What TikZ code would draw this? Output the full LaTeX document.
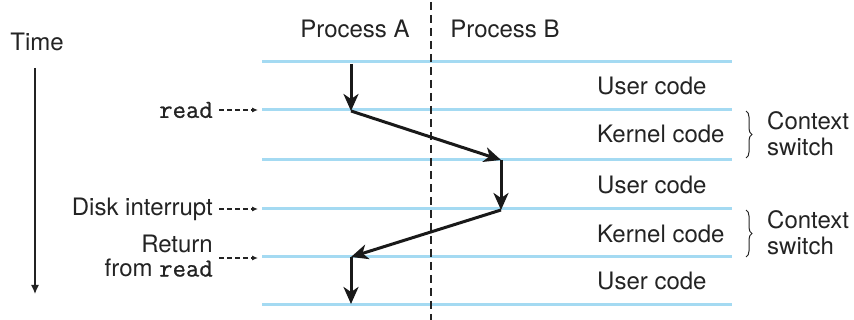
\documentclass[tikz,border=0pt]{standalone}
\usepackage{fontspec}
\setmainfont{TeX Gyre Heros}
\newfontfamily\rdfont{Latin Modern Mono}[FakeBold=0.8]
\usetikzlibrary{arrows.meta,decorations.pathreplacing}
\definecolor{lblue}{RGB}{164,218,242}
\definecolor{dgray}{RGB}{35,35,35}
\newcommand{\rdword}{{\rdfont\bfseries\fontsize{26}{24}\selectfont read}}
\tikzset{
  lane/.style={draw=lblue,line width=3pt},
  flow/.style={draw=black!90,line width=3pt,-{Stealth[length=17pt,width=15pt,inset=5pt]}},
  ptr/.style={draw=dgray,line width=1.1pt,dash pattern=on 5pt off 3pt,-{Latex[length=6pt,width=5pt]}},
  lbl/.style={font=\fontsize{24}{26}\selectfont,text=dgray,inner sep=0pt},
  code/.style={lbl,anchor=west},
  brc/.style={draw=dgray,line width=1pt,decorate,decoration={brace,amplitude=6pt}},
}
\begin{document}
\begin{tikzpicture}[x=1pt,y=-1pt]
\useasboundingbox (0,0) rectangle (854,320);
% lanes
\foreach \i/\y in {1/62,2/110,3/160,4/209,5/257,6/305}{
  \coordinate (L\i) at (262,\y);
  \coordinate (R\i) at (732,\y);
  \draw[lane] (L\i) -- (R\i);
}
% divider
\coordinate (dtop) at (431,2);
\coordinate (dbot) at (431,320);
\draw[draw=dgray,line width=1.8pt,dash pattern=on 8pt off 5pt] (dtop) -- (dbot);
% headers
\node[lbl] (pa) at (355,29) {Process A};
\node[lbl] (pb) at (505,29) {Process B};
% time
\node[lbl] (time) at (37,42) {Time};
\coordinate (t0) at (35,68);
\coordinate (t1) at (35,294);
\draw[draw=dgray,line width=1.3pt,-{Latex[length=9pt,width=8pt]}] (t0) -- (t1);
% flow arrows
\coordinate (a0) at (351,64);
\coordinate (a1) at (351,111);
\coordinate (b1) at (501,160);
\coordinate (b2) at (501,210);
\coordinate (a2) at (351,257);
\coordinate (a3) at (351,304);
\draw[flow] (a0) -- (a1);
\draw[flow] (a1) -- (b1);
\draw[flow] (b1) -- (b2);
\draw[flow] (b2) -- (a2);
\draw[flow] (a2) -- (a3);
% left labels
\node[lbl,anchor=east] (rd) at (213,110) {\rdword};
\node[lbl,anchor=east] (di) at (213,209) {Disk interrupt};
\node[lbl,anchor=east,align=right,font=\fontsize{24}{24}\selectfont] (rt) at (213,256) {Return\\from \rdword};
\coordinate (p1) at (219,110);
\coordinate (q1) at (258,110);
\coordinate (p2) at (219,209);
\coordinate (q2) at (258,209);
\coordinate (p3) at (219,258);
\coordinate (q3) at (258,258);
\draw[ptr] (p1) -- (q1);
\draw[ptr] (p2) -- (q2);
\draw[ptr] (p3) -- (q3);
% right labels
\node[code] (u1) at (597,86) {User code};
\node[code] (k1) at (597,134) {Kernel code};
\node[code] (u2) at (597,185) {User code};
\node[code] (k2) at (597,234) {Kernel code};
\node[code] (u3) at (597,281) {User code};
% braces
\coordinate (c1t) at (746,111);
\coordinate (c1b) at (746,158);
\coordinate (c2t) at (746,210);
\coordinate (c2b) at (746,257);
\draw[brc] (c1t) -- (c1b);
\draw[brc] (c2t) -- (c2b);
\node[lbl,anchor=west,align=left,font=\fontsize{24}{26}\selectfont] (cs1) at (767,134) {Context\\switch};
\node[lbl,anchor=west,align=left,font=\fontsize{24}{26}\selectfont] (cs2) at (767,233) {Context\\switch};
\end{tikzpicture}
\end{document}
